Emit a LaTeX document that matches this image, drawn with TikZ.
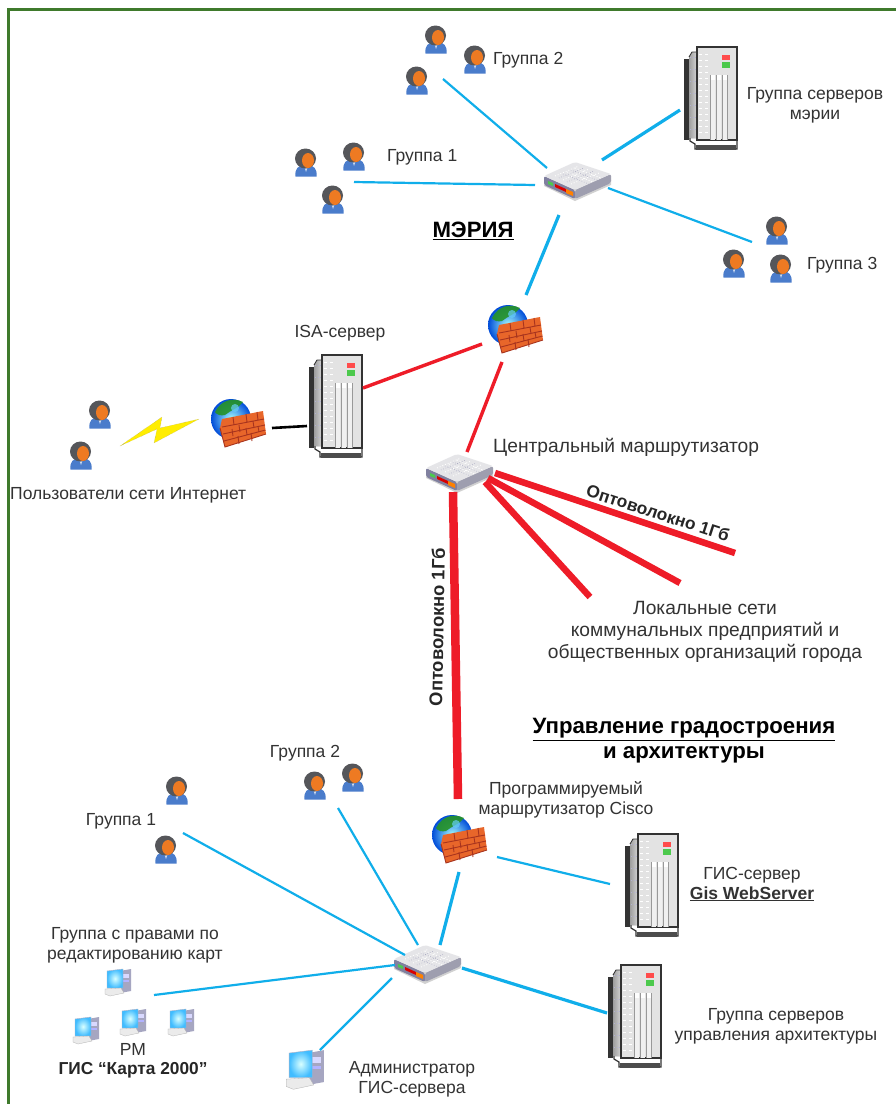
\documentclass[tikz,border=0pt]{standalone}
\usepackage{fontspec}
\setmainfont{Liberation Sans}
\usetikzlibrary{calc,shapes.geometric}
\definecolor{framegreen}{HTML}{3F7A2C}
\definecolor{netblue}{HTML}{10AEEA}
\definecolor{netred}{HTML}{EE1C28}
\definecolor{txt}{HTML}{333333}
\definecolor{brick}{HTML}{E8662A}
\definecolor{mortar}{HTML}{A8341E}
\definecolor{hair}{HTML}{55565A}
\definecolor{skin}{HTML}{EE7A22}
\definecolor{suit}{HTML}{4A7CCB}
\tikzset{
  x=1pt,y=-1pt,
  blueln/.style={draw=netblue,line width=2.2pt},
  blueth/.style={draw=netblue,line width=3.2pt},
  redln/.style={draw=netred,line width=3.4pt},
  redth/.style={draw=netred,line width=6.5pt},
  blackln/.style={draw=black,line width=2.6pt},
  lbl/.style={text=txt,font=\fontsize{17.5}{20}\selectfont,align=center,inner sep=0pt},
  lblbig/.style={lbl,font=\fontsize{19.2}{22}\selectfont},
  lbll/.style={lbl,anchor=west},
  blbl/.style={lbl,text=black!85,font=\bfseries\fontsize{17.3}{20}\selectfont},
  blblv/.style={lbl,text=black!85,font=\bfseries\fontsize{18.3}{20}\selectfont},
  head/.style={lbl,text=black,font=\bfseries\fontsize{22.2}{25}\selectfont},
  spot/.style={inner sep=0pt,minimum size=2pt},
  person/.pic={
    \fill[suit] (-10.5,13.5) .. controls (-11.5,5) and (-7,3) .. (-3,2) -- (3,2) .. controls (7,3) and (11.5,5) .. (10.5,13.5) -- cycle;
    \fill[white!70!suit] (-2,3) -- (2,3) -- (0,9) -- cycle;
    \fill[hair] (-0.5,-4.5) ellipse[x radius=10.5,y radius=10];
    \fill[skin] (2,-2.5) ellipse[x radius=6,y radius=7.5];
  },
  servr/.pic={
    \fill[black!80] (-27,-39) rectangle (-22,42);
    \filldraw[draw=black!80,fill=white,line width=1.2pt] (-21,38) -- (-14,38) -- (-14,40) -- (26,40) -- (26,51) -- (-16,51) -- (-16,46) -- (-21,43) -- cycle;
    \fill[black!70] (-15,47) rectangle (25,52);
    \fill[left color=black!38,right color=black!14] (-22,-41) -- (-19,-46) -- (-13,-46) -- (-13,40) -- (-22,40) -- cycle;
    \draw[black!80,line width=.8pt] (-22,-41) -- (-19,-46) -- (-14,-46);
    \filldraw[draw=black!80,line width=1.2pt,fill=black!11] (-14,-51) -- (26,-51) -- (26,42) -- (-14,42) -- (-14,-47) -- cycle;
    \fill[white!30!red] (11,-43) rectangle (19,-38);
    \fill[green!70!black!70] (11,-36) rectangle (19,-30);
    \foreach \sx in {-1,5,11}{
      \fill[white] (\sx,-23) rectangle ++(5,5);
      \fill[black!6] (\sx,-18) rectangle ++(5,60);
      \draw[black!40,line width=.6pt] (\sx,-23) -- ++(0,65);
    }
    \draw[black!40,line width=.6pt] (16,-23) -- (16,42);
    \foreach \sy in {-44,-38,-32,-26,-20,-14,-8,-2,4,10,16,22,28,34}{\draw[white,line width=.7pt,dashed] (-12,\sy) -- (-3,\sy);}
    \foreach \sy in {-41,-29,-17,-5,7,19,31}{\draw[blue!40!black!30,line width=.6pt,dotted] (-21,\sy) -- (-15,\sy);}
  },
  routr/.pic={
    \fill[black!18] (-33,6) -- (-2,21) -- (34,5) -- (34,0) -- (-33,0) -- cycle;
    \fill[blue!25!black!50,rounded corners=2pt] (-33,-4) -- (-2,10) -- (-2,19) -- (-33,5) -- cycle;
    \fill[blue!18!black!38,rounded corners=2pt] (-2,10) -- (34,-6) -- (34,3) -- (-2,19) -- cycle;
    \fill[blue!8!black!10,rounded corners=2pt] (-33,-4) -- (-2,-18) -- (34,-6) -- (-2,10) -- cycle;
    \draw[white,line width=.9pt,dotted] (-22,-4) -- (2,-14) (-14,0) -- (12,-11) (-6,4) -- (22,-7) (-10,-8) -- (16,2) (-2,-12) -- (24,-2);
    \draw[blue!30!black!40,line width=.5pt,dotted] (-18,-2) -- (7,-12) (-10,2) -- (17,-9) (-14,-6) -- (12,4) (-6,-10) -- (20,0);
    \fill[green!70!black!70] (-29,1) -- (-24,3) -- (-24,6) -- (-29,4) -- cycle;
    \fill[red!85!black] (-22,4) -- (-11,9) -- (-11,12) -- (-22,7) -- cycle;
    \fill[orange] (-11,9) -- (-4,12) -- (-4,16) -- (-11,13) -- cycle;
  },
  firew/.pic={
    \shade[inner color=cyan!35!white,outer color=blue!65!cyan!85!black] (-8,-5) circle[radius=20];
    \fill[green!50!black!85,opacity=.9] (-24,-12) .. controls (-18,-24) and (-6,-27) .. (4,-22) .. controls (0,-16) and (-8,-14) .. (-14,-9) .. controls (-18,-8) and (-22,-9) .. (-24,-12) -- cycle;
    \fill[white!40!cyan,opacity=.7] (-4,-16) circle[radius=4];
    \fill[brick] (-17,-5) -- (24,-13) -- (27,10) -- (-14,23) -- (-19,4) -- cycle;
    \draw[mortar,line width=.9pt] (-17,3) -- (25,-5) (-16,10) -- (26,1) (-15,17) -- (26.5,6)
      (-6,-7) -- (-5,1) (7,-10) -- (8,-2) (18,-12) -- (19,-4)
      (0,1) -- (1,8) (14,-3) -- (15,4) (-7,5) -- (-6,12) (7,4) -- (8,11) (19,2) -- (20,8)
      (-1,12) -- (0,20) (12,9) -- (13,17);
    \draw[mortar,line width=.9pt] (-19,4) -- (-14,23) -- (27,10);
  },
  compu/.pic={
    \fill[blue!30!black!35] (2,-11) -- (13,-13) -- (13,9) -- (2,11) -- cycle;
    \fill[white!85!blue] (4,-8) rectangle (11,-4);
    \fill[white!70!blue] (4,-2) rectangle (11,0);
    \shade[inner color=white!85!cyan,outer color=cyan!65!blue!75] (-11,-11) -- (5,-13) -- (5,6) -- (-11,6) -- cycle;
    \draw[blue!25!black!30,line width=.4pt] (-11,-11) -- (5,-13) -- (5,6) -- (-11,6) -- cycle;
    \fill[black!8] (-13,7) -- (3,6) -- (6,11) -- (-8,14) -- (-13,12) -- cycle;
    \draw[black!30,line width=.3pt] (-13,7) -- (3,6) -- (6,11) -- (-8,14) -- (-13,12) -- cycle;
  },
}
\begin{document}
\begin{tikzpicture}
\useasboundingbox (0,0) rectangle (896,1104);
\fill[white] (0,0) rectangle (896,1104);
\begin{scope}
\clip (0,0) rectangle (896,1104);
\draw[framegreen,line width=3pt] (8,1130) -- (8,9) -- (920,9);
\end{scope}

% icon anchors
\foreach \nm/\px/\py in {
  ua/436/40,ub/475/60,uc/417/81,
  ud/306/163,ue/354/157,uf/333/200,
  ug/777/231,uh/734/264,ui/781/269,
  uj/100/415,uk/81/456,
  ul/315/786,um/353/778,
  un/177/791,uo/166/850}{
  \node[spot] (\nm) at (\px,\py) {};
  \pic at (\nm) {person};
}
\foreach \nm/\px/\py in {s1/711/98,s2/336/406,s3/652/885,s4/635/1016}{
  \node[spot] (\nm) at (\px,\py) {};
  \pic at (\nm) {servr};
}
\foreach \nm/\px/\py in {r1/577/180,r2/459/472,r3/427/963}{
  \node[spot] (\nm) at (\px,\py) {};
  \pic at (\nm) {routr};
}
\foreach \nm/\px/\py in {f1/516/330,f2/239/424,f3/460/840}{
  \node[spot] (\nm) at (\px,\py) {};
  \pic at (\nm) {firew};
}
\foreach \nm/\px/\py in {pa/118/982,pb/86/1030,pc/133/1022,pd/181/1022}{
  \node[spot] (\nm) at (\px,\py) {};
  \pic at (\nm) {compu};
}
\node[spot] (pe) at (305,1069) {};
\pic[scale=1.45,transform shape] at (pe) {compu};

% free ends of fibre stubs
\coordinate (fa) at (735,553);
\coordinate (fb) at (680,583);
\coordinate (fc) at (590,597);

% connectors, upper network
\draw[blueln] ($(r1)+(-30,-12)$) -- ($(uc)+(26,-2)$);
\draw[blueln] ($(r1)+(-42,5)$) -- ($(uf)+(21,-18)$);
\draw[blueth] ($(r1)+(25,-20)$) -- ($(s1)+(-31,12)$);
\draw[blueln] ($(r1)+(31,8)$) -- ($(uh)+(18,-22)$);
\draw[blueth] ($(r1)+(-18,35)$) -- ($(f1)+(10,-35)$);
\draw[redln] ($(f1)+(-34,14)$) -- ($(s2)+(27,-18)$);
\draw[redln] ($(f1)+(-14,32)$) -- ($(r2)+(8,-20)$);
\draw[blackln] ($(f2)+(33,4)$) -- ($(s2)+(-29,20)$);
% fibre
\draw[redth] ($(r2)+(36,1)$) -- (fa);
\draw[redth] ($(r2)+(29,6)$) -- (fb);
\draw[redth] ($(r2)+(26,10)$) -- (fc);
\draw[redth,line width=8.5pt] ($(r2)+(-6,20)$) -- ($(f3)+(-2,-41)$);
% connectors, lower network
\draw[blueln] ($(f3)+(37,17)$) -- ($(s3)+(-42,-1)$);
\draw[blueth] ($(f3)+(-1,32)$) -- ($(r3)+(13,-18)$);
\draw[blueln] ($(r3)+(-9,-18)$) -- ($(um)+(-15,30)$);
\draw[blueln] ($(r3)+(-22,-8)$) -- ($(uo)+(17,-17)$);
\draw[blueln] ($(r3)+(-32,2)$) -- ($(pc)+(21,-27)$);
\draw[blueln] ($(r3)+(-35,15)$) -- ($(pe)+(15,-19)$);
\draw[blueth] ($(r3)+(35,5)$) -- ($(s4)+(-28,-3)$);

% lightning
\filldraw[fill=yellow!95!orange,draw=black!45,line width=.3pt,densely dotted]
  (120,446) -- (162,417) -- (160,428) -- (199,419) -- (154,443) -- (157,429) -- cycle;

% labels
\node[lbll] (t1) at (493,60) {Группа 2};
\node[lbll] (t2) at (387,157) {Группа 1};
\node[lbl] (t3) at (815,105) {Группа серверов\\мэрии};
\node[head] (t4) at (473,231) {\underline{МЭРИЯ}};
\node[lbll] (t5) at (807,265) {Группа 3};
\node[lbl] (t6) at (340,333) {ISA-сервер};
\node[lblbig,anchor=west] (t7) at (493,447) {Центральный маршрутизатор};
\node[lbll] (t8) at (10,495) {Пользователи сети Интернет};
\node[blbl,rotate=-18] (t9) at (658,513) {Оптоволокно 1Гб};
\node[blblv,rotate=89] (t10) at (437,627) {Оптоволокно 1Гб};
\node[lblbig] (t11) at (705,632) {Локальные сети\\коммунальных предприятий и\\общественных организаций города};
\node[head] (t12) at (684,741) {\underline{Управление градостроения}\\и архитектуры};
\node[lbl] (t13) at (566,800) {Программируемый\\маршрутизатор Cisco};
\node[lbl] (t14) at (305,753) {Группа 2};
\node[lbl] (t15) at (121,821) {Группа 1};
\node[lbl] (t16) at (135,945) {Группа с правами по\\редактированию карт};
\node[lbl] (t17) at (133,1049) {РМ};
\node[blbl] (t18) at (133,1070) {ГИС “Карта 2000”};
\node[lbl] (t19) at (412,1079) {Администратор\\ГИС-сервера};
\node[lbl] (t20) at (752,884) {ГИС-сервер\\\textbf{\underline{Gis WebServer}}};
\node[lbl] (t21) at (776,1026) {Группа серверов\\управления архитектуры};
\end{tikzpicture}
\end{document}
